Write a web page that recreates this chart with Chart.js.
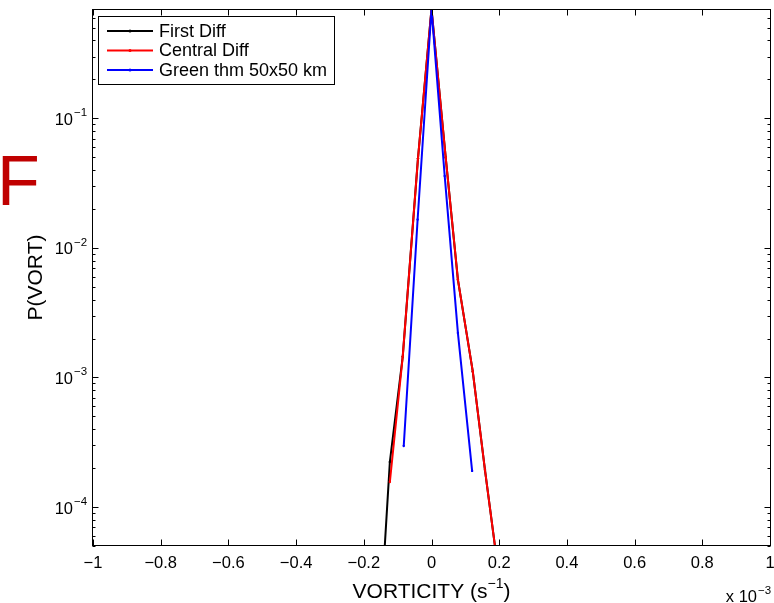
<!DOCTYPE html>
<html>
<head>
<meta charset="utf-8">
<script src="https://cdn.jsdelivr.net/npm/chart.js@4"></script>
<style>
  html, body { margin: 0; padding: 0; background: #fff; }
  canvas { display: block; }
</style>
</head>
<body>
<canvas id="vortChart" width="774" height="603"></canvas>
<script>
// vorticity bins (units of 1e-3 s^-1) and probabilities
const firstDiffX = [-0.163, -0.123, -0.085, -0.040, 0, 0.042, 0.078, 0.122, 0.158, 0.199];
const firstDiffY = [4.2e-6, 2.23e-4, 1.45e-3, 0.049, 0.70, 0.0499, 5.69e-3, 1.11e-3, 1.93e-4, 2.95e-5];

const centralDiffX = [-0.123, -0.085, -0.040, 0, 0.042, 0.078, 0.122, 0.158, 0.199];
const centralDiffY = [1.56e-4, 1.45e-3, 0.049, 0.70, 0.0499, 5.69e-3, 1.11e-3, 1.93e-4, 2.95e-5];

const greenX = [-0.082, -0.041, 0, 0.039, 0.078, 0.120];
const greenY = [2.96e-4, 0.0166, 0.70, 0.036, 2.21e-3, 1.9e-4];

const seriesNames = ["First Diff", "Central Diff", "Green thm 50x50 km"];
const seriesColors = ["#000000", "#ff0000", "#0000ff"];

// tick labels
const xTicks = [-1, -0.8, -0.6, -0.4, -0.2, 0, 0.2, 0.4, 0.6, 0.8, 1];
const yDecades = [-4, -3, -2, -1];

const FONT = "'Liberation Sans', Arial, Helvetica, sans-serif";

const toPoints = (xs, ys) => xs.map((x, i) => ({ x: x, y: ys[i] }));

const fmtX = v => {
  if (v === 0) return "0";
  const s = String(Math.abs(v)).replace(/^0\./, "0.");
  return (v < 0 ? "\u2212" : "") + s;
};

// axes box, inward ticks, tick labels, axis titles, legend
const matlabLook = {
  id: "matlabLook",
  afterDraw(chart) {
    const ctx = chart.ctx;
    const a = chart.chartArea;
    const xs = chart.scales.x;
    const ys = chart.scales.y;
    const L = Math.round(a.left) - 0.5, R = Math.round(a.right) + 0.5;
    const T = Math.round(a.top) + 0.5, B = Math.round(a.bottom) - 0.5;

    ctx.save();
    ctx.strokeStyle = "#000";
    ctx.lineWidth = 1;
    ctx.strokeRect(L, T, R - L, B - T);

    // x ticks
    ctx.beginPath();
    xTicks.forEach(v => {
      const px = Math.round(xs.getPixelForValue(v)) + 0.5;
      ctx.moveTo(px, B); ctx.lineTo(px, B - 6);
      ctx.moveTo(px, T); ctx.lineTo(px, T + 6);
    });
    // y ticks, major and minor
    const yMin = ys.min, yMax = ys.max;
    for (let d = -5; d <= 0; d++) {
      for (let m = 1; m <= 9; m++) {
        const v = m * Math.pow(10, d);
        if (v < yMin || v > yMax) continue;
        const len = m === 1 ? 6 : 3;
        const py = Math.round(ys.getPixelForValue(v)) + 0.5;
        ctx.moveTo(L, py); ctx.lineTo(L + len, py);
        ctx.moveTo(R, py); ctx.lineTo(R - len, py);
      }
    }
    ctx.stroke();

    ctx.fillStyle = "#000";
    // x tick labels
    ctx.font = "16.5px " + FONT;
    ctx.textAlign = "center";
    ctx.textBaseline = "alphabetic";
    xTicks.forEach(v => {
      ctx.fillText(fmtX(v), xs.getPixelForValue(v), 568);
    });

    // y tick labels 10^n
    yDecades.forEach(e => {
      const py = ys.getPixelForValue(Math.pow(10, e));
      ctx.font = "16.5px " + FONT;
      ctx.textAlign = "right";
      ctx.fillText("10", 73, py + 6.5);
      ctx.font = "11.5px " + FONT;
      ctx.textAlign = "left";
      ctx.fillText("\u2212" + Math.abs(e), 74, py - 2);
    });

    // x 10^-3 multiplier
    ctx.font = "16.5px " + FONT;
    ctx.textAlign = "right";
    ctx.fillText("x 10", 757, 602);
    ctx.font = "11.5px " + FONT;
    ctx.textAlign = "left";
    ctx.fillText("\u22123", 758, 594);

    // x axis title
    const cx = (a.left + a.right) / 2;
    ctx.font = "21px " + FONT;
    const t1 = "VORTICITY (s";
    ctx.font = "21px " + FONT;
    const w1 = ctx.measureText(t1).width;
    ctx.font = "14px " + FONT;
    const w2 = ctx.measureText("\u22121").width;
    ctx.font = "21px " + FONT;
    const w3 = ctx.measureText(")").width;
    let x0 = cx - (w1 + w2 + w3) / 2;
    ctx.textAlign = "left";
    ctx.fillText(t1, x0, 598);
    ctx.font = "14px " + FONT;
    ctx.fillText("\u22121", x0 + w1, 588);
    ctx.font = "21px " + FONT;
    ctx.fillText(")", x0 + w1 + w2, 598);

    // y axis title
    ctx.save();
    ctx.translate(42, (a.top + a.bottom) / 2);
    ctx.rotate(-Math.PI / 2);
    ctx.textAlign = "center";
    ctx.font = "21px " + FONT;
    ctx.fillText("P(VORT)", 0, 0);
    ctx.restore();

    // panel letter
    ctx.fillStyle = "#c00000";
    ctx.font = "70px " + FONT;
    ctx.textAlign = "left";
    ctx.fillText("F", -3, 205);

    // legend
    const lx = 98.5, ly = 16.5, lw = 236, lh = 68;
    ctx.fillStyle = "#fff";
    ctx.fillRect(lx, ly, lw, lh);
    ctx.strokeStyle = "#000";
    ctx.lineWidth = 1;
    ctx.strokeRect(lx, ly, lw, lh);
    ctx.font = "18px " + FONT;
    ctx.textBaseline = "middle";
    seriesNames.forEach((name, i) => {
      const y = 31 + i * 19.5;
      ctx.strokeStyle = seriesColors[i];
      ctx.lineWidth = 2;
      ctx.beginPath();
      ctx.moveTo(107, y); ctx.lineTo(153, y);
      ctx.stroke();
      ctx.fillStyle = seriesColors[i];
      ctx.beginPath();
      ctx.arc(130, y, 1.5, 0, Math.PI * 2);
      ctx.fill();
      ctx.fillStyle = "#000";
      ctx.fillText(name, 159, y + 1);
    });
    ctx.restore();
  }
};

const ctx = document.getElementById("vortChart").getContext("2d");

new Chart(ctx, {
  type: "line",
  data: {
    datasets: [
      {
        label: seriesNames[2],
        data: toPoints(greenX, greenY),
        borderColor: seriesColors[2],
        backgroundColor: seriesColors[2],
        order: 0
      },
      {
        label: seriesNames[1],
        data: toPoints(centralDiffX, centralDiffY),
        borderColor: seriesColors[1],
        backgroundColor: seriesColors[1],
        order: 1
      },
      {
        label: seriesNames[0],
        data: toPoints(firstDiffX, firstDiffY),
        borderColor: seriesColors[0],
        backgroundColor: seriesColors[0],
        order: 2
      }
    ]
  },
  options: {
    responsive: false,
    animation: false,
    devicePixelRatio: 1,
    layout: { padding: { left: 0, right: 4, top: 9, bottom: 0 } },
    elements: {
      line: { borderWidth: 2, tension: 0, fill: false },
      point: { radius: 1.2, borderWidth: 0, hoverRadius: 1.2 }
    },
    plugins: {
      legend: { display: false },
      tooltip: { enabled: false }
    },
    scales: {
      x: {
        type: "linear",
        min: -1,
        max: 1,
        grid: { display: false },
        border: { display: false },
        ticks: { display: false },
        afterFit: s => { s.height = 57; }
      },
      y: {
        type: "logarithmic",
        min: 5e-5,
        max: 0.7,
        grid: { display: false },
        border: { display: false },
        ticks: { display: false },
        afterFit: s => { s.width = 93; }
      }
    }
  },
  plugins: [matlabLook]
});
</script>
</body>
</html>
